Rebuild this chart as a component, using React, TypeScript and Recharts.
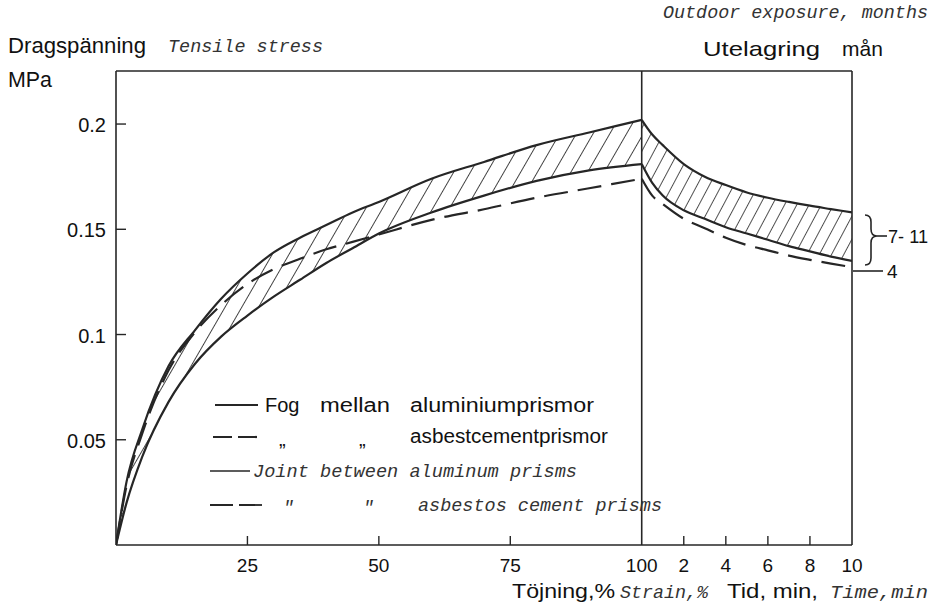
import React from 'react'
import {
  ComposedChart, Line, Area, XAxis, YAxis, ReferenceLine,
} from 'recharts'

// strain part (0-100 %)
const strain = [0, 2, 5, 10, 15, 20, 25, 30, 35, 40, 45, 50, 60, 70, 80, 90, 100]
const alUpperStrain = [0, 0.03, 0.055, 0.085, 0.102, 0.117, 0.129, 0.139, 0.146, 0.152, 0.158, 0.163, 0.174, 0.182, 0.19, 0.196, 0.202]
const alLowerStrain = [0, 0.02, 0.042, 0.068, 0.086, 0.099, 0.109, 0.118, 0.126, 0.134, 0.141, 0.148, 0.158, 0.166, 0.173, 0.178, 0.181]
const asbestosStrain = [0, 0.028, 0.053, 0.083, 0.101, 0.114, 0.124, 0.131, 0.136, 0.1405, 0.144, 0.1475, 0.1545, 0.1595, 0.165, 0.1695, 0.174]

// relaxation part (0-10 min)
const minutes = [0, 0.5, 1, 2, 3, 4, 5, 6, 7, 8, 9, 10]
const alUpperTime = [0.202, 0.195, 0.19, 0.181, 0.175, 0.171, 0.1675, 0.165, 0.163, 0.1612, 0.1596, 0.158]
const alLowerTime = [0.181, 0.172, 0.166, 0.159, 0.155, 0.151, 0.148, 0.145, 0.142, 0.1395, 0.137, 0.135]
const asbestosTime = [0.174, 0.166, 0.162, 0.155, 0.1505, 0.146, 0.1425, 0.14, 0.1375, 0.1355, 0.1337, 0.132]

const strainTicks = [25, 50, 75, 100]
const minuteTicks = [2, 4, 6, 8, 10]
const stressTicks = [0.05, 0.1, 0.15, 0.2]
const stressLabels = ['0.05', '0.1', '0.15', '0.2']

// one minute takes 4 strain-units of width on the shared x axis
const MIN_W = 4
const tx = (t: number) => 100 + t * MIN_W

type Row = { x: number; [k: string]: any }
const rows = new Map<number, Row>()
const put = (x: number, vals: Record<string, any>) => {
  const r = rows.get(x) ?? { x }
  Object.assign(r, vals)
  rows.set(x, r)
}
strain.forEach((s, i) => put(s, {
  upL: alUpperStrain[i], loL: alLowerStrain[i], dsL: asbestosStrain[i],
  bandL: [alLowerStrain[i], alUpperStrain[i]],
}))
minutes.forEach((t, i) => put(tx(t), {
  upR: alUpperTime[i], loR: alLowerTime[i], dsR: asbestosTime[i],
  bandR: [alLowerTime[i], alUpperTime[i]],
}))
const data = [...rows.values()].sort((a, b) => a.x - b.x)

const X_MAX = tx(10)
const Y_MAX = 0.2252
const INK = '#262626'
const SANS = "'Liberation Sans', Arial, sans-serif"
const MONO = "'Liberation Mono', 'DejaVu Sans Mono', monospace"

function XTick({ x, y, payload }: any) {
  const v = payload.value
  const label = v <= 100 ? String(v) : String((v - 100) / MIN_W)
  const mark = v !== 100 && v !== X_MAX
  return (
    <g>
      {mark && <line x1={x} x2={x} y1={y} y2={y - 9} stroke={INK} strokeWidth={1.4} />}
      <text x={x} y={y + 27} textAnchor="middle" fontFamily={SANS} fontSize={19} fill="#111">{label}</text>
    </g>
  )
}

function YTick({ x, y, payload }: any) {
  const i = stressTicks.indexOf(payload.value)
  return (
    <g>
      <line x1={x} x2={x + 10} y1={y} y2={y} stroke={INK} strokeWidth={1.4} />
      <text x={x - 10} y={y + 8} textAnchor="end" fontFamily={SANS} fontSize={20} fill="#111">{stressLabels[i]}</text>
    </g>
  )
}

const sans = { fontFamily: SANS, fill: '#111' }
const mono = { fontFamily: MONO, fontStyle: 'italic' as const, fill: '#333' }

function Overlay() {
  return (
    <svg width={937} height={606} style={{ position: 'absolute', left: 0, top: 0, pointerEvents: 'none' }}>
      <text x={8} y={53} fontSize={22} textLength={138} lengthAdjust="spacingAndGlyphs" {...sans}>Dragspänning</text>
      <text x={8} y={87} fontSize={22} textLength={44} lengthAdjust="spacingAndGlyphs" {...sans}>MPa</text>
      <text x={168} y={52} fontSize={18} textLength={155} lengthAdjust="spacingAndGlyphs" {...mono}>Tensile stress</text>

      <text x={663} y={18} fontSize={18} textLength={265} lengthAdjust="spacingAndGlyphs" {...mono}>Outdoor exposure, months</text>
      <text x={703} y={56} fontSize={21} textLength={117} lengthAdjust="spacingAndGlyphs" {...sans}>Utelagring</text>
      <text x={842} y={56} fontSize={21} {...sans}>mån</text>

      <text x={512} y={598} fontSize={20} textLength={103} lengthAdjust="spacingAndGlyphs" {...sans}>Töjning,%</text>
      <text x={620} y={598} fontSize={18} textLength={88} lengthAdjust="spacingAndGlyphs" {...mono}>Strain,%</text>
      <text x={727} y={598} fontSize={20} textLength={91} lengthAdjust="spacingAndGlyphs" {...sans}>Tid, min,</text>
      <text x={830} y={598} fontSize={18} textLength={98} lengthAdjust="spacingAndGlyphs" {...mono}>Time,min</text>

      {/* legend */}
      <line x1={215} x2={258} y1={405} y2={405} stroke={INK} strokeWidth={2.2} />
      <text x={265} y={412} fontSize={20} {...sans}>Fog</text>
      <text x={320} y={412} fontSize={20} textLength={70} lengthAdjust="spacingAndGlyphs" {...sans}>mellan</text>
      <text x={410} y={412} fontSize={20} textLength={184} lengthAdjust="spacingAndGlyphs" {...sans}>aluminiumprismor</text>

      <line x1={213} x2={257} y1={437} y2={437} stroke={INK} strokeWidth={2.2} strokeDasharray="19 6" />
      <text x={279} y={446} fontSize={20} {...sans}>„</text>
      <text x={359} y={446} fontSize={20} {...sans}>„</text>
      <text x={410} y={443} fontSize={20} textLength={198} lengthAdjust="spacingAndGlyphs" {...sans}>asbestcementprismor</text>

      <line x1={210} x2={250} y1={471} y2={471} stroke={INK} strokeWidth={1.6} />
      <text x={253} y={477} fontSize={18} textLength={324} lengthAdjust="spacingAndGlyphs" {...mono}>Joint between aluminum prisms</text>

      <line x1={210} x2={262} y1={505} y2={505} stroke={INK} strokeWidth={1.8} strokeDasharray="23 6" />
      <text x={283} y={513} fontSize={18} {...mono}>"</text>
      <text x={363} y={513} fontSize={18} {...mono}>"</text>
      <text x={418} y={511} fontSize={18} textLength={244} lengthAdjust="spacingAndGlyphs" {...mono}>asbestos cement prisms</text>

      {/* right hand annotations */}
      <path d="M865,215 Q871,215 871,222 L871,229 Q871,236 877,236 Q871,236 871,243 L871,258 Q871,265 865,265" fill="none" stroke={INK} strokeWidth={1.6} />
      <line x1={877} x2={887} y1={236} y2={236} stroke={INK} strokeWidth={1.6} />
      <text x={888} y={243} fontSize={19} textLength={40} lengthAdjust="spacingAndGlyphs" {...sans}>7- 11</text>
      <line x1={853} x2={883} y1={271} y2={271} stroke={INK} strokeWidth={1.6} />
      <text x={887} y={278} fontSize={19} {...sans}>4</text>
    </svg>
  )
}

export default function App() {
  return (
    <div style={{ position: 'absolute', left: 0, top: 0, width: 937, height: 606, background: '#fff' }}>
      <ComposedChart width={937} height={606} data={data} margin={{ top: 71, right: 85, bottom: 0, left: 0 }}>
        <defs>
          <pattern id="hatchL" patternUnits="userSpaceOnUse" width={14.5} height={14.5} patternTransform="rotate(30)">
            <line x1={0} y1={0} x2={0} y2={14.5} stroke={INK} strokeWidth={1.7} />
          </pattern>
          <pattern id="hatchR" patternUnits="userSpaceOnUse" width={10.8} height={10.8} patternTransform="rotate(28)">
            <line x1={0} y1={0} x2={0} y2={10.8} stroke={INK} strokeWidth={1.6} />
          </pattern>
        </defs>
        <XAxis
          dataKey="x" type="number" domain={[0, X_MAX]} allowDataOverflow
          ticks={[...strainTicks, ...minuteTicks.map(tx)]} interval={0}
          tick={<XTick />} tickSize={0} tickMargin={0} tickLine={false}
          axisLine={{ stroke: INK, strokeWidth: 1.6 }} height={61}
        />
        <YAxis
          type="number" domain={[0, Y_MAX]} allowDataOverflow ticks={stressTicks} interval={0}
          tick={<YTick />} tickSize={0} tickMargin={0} tickLine={false}
          axisLine={{ stroke: INK, strokeWidth: 1.6 }} width={116}
        />
        <ReferenceLine y={Y_MAX} stroke={INK} strokeWidth={1.6} ifOverflow="visible" />
        <ReferenceLine x={X_MAX} stroke={INK} strokeWidth={1.6} ifOverflow="visible" />
        <ReferenceLine x={100} stroke={INK} strokeWidth={1.6} />

        <Area dataKey="bandL" type="monotone" fill="url(#hatchL)" fillOpacity={1} stroke="none" isAnimationActive={false} />
        <Area dataKey="bandR" type="monotone" fill="url(#hatchR)" fillOpacity={1} stroke="none" isAnimationActive={false} />

        <Line dataKey="upL" type="monotone" stroke={INK} strokeWidth={2.2} dot={false} isAnimationActive={false} />
        <Line dataKey="loL" type="monotone" stroke={INK} strokeWidth={2.2} dot={false} isAnimationActive={false} />
        <Line dataKey="dsL" type="monotone" stroke={INK} strokeWidth={2.2} strokeDasharray="24 10" dot={false} isAnimationActive={false} />
        <Line dataKey="upR" type="monotone" stroke={INK} strokeWidth={2.2} dot={false} isAnimationActive={false} />
        <Line dataKey="loR" type="monotone" stroke={INK} strokeWidth={2.2} dot={false} isAnimationActive={false} />
        <Line dataKey="dsR" type="monotone" stroke={INK} strokeWidth={2.2} strokeDasharray="24 10" dot={false} isAnimationActive={false} />
      </ComposedChart>
      <Overlay />
    </div>
  )
}
